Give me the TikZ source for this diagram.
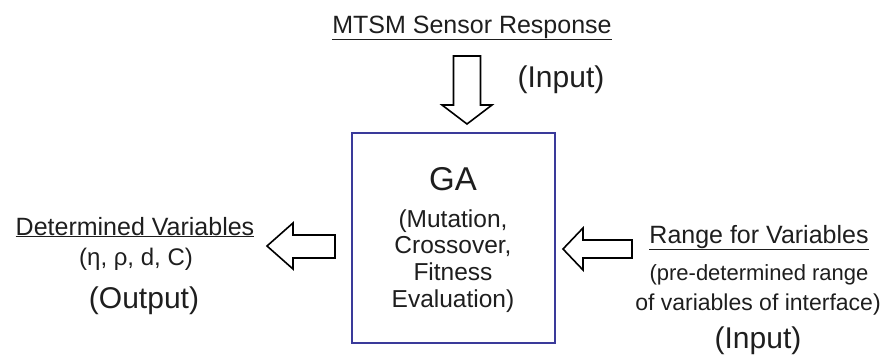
\documentclass[tikz,border=0pt]{standalone}
\usepackage{fontspec}
\setmainfont{Liberation Sans}
\definecolor{boxblue}{HTML}{3A3A9A}
\definecolor{ink}{HTML}{1E1E1E}
\begin{document}
\begin{tikzpicture}[x=1pt,y=-1pt,
  lbl/.style={inner sep=0pt, anchor=base, text=ink},
  big/.style={lbl, font=\fontsize{25}{30}\selectfont},
  mid/.style={lbl, font=\fontsize{24.5}{28}\selectfont},
  small/.style={lbl, font=\fontsize{23}{27}\selectfont},
  tag/.style={lbl, font=\fontsize{30}{34}\selectfont},
  blockarrow/.style={draw=black, line width=1.6pt, fill=white, line join=miter}]
\useasboundingbox (0,0) rectangle (884,356);

% central GA block
\draw[boxblue, line width=2.6pt] (352,133) rectangle (555,343);
\node[lbl, font=\fontsize{33}{36}\selectfont] (gatitle) at (453,190) {GA};
\node[mid] (ga1) at (453,227) {(Mutation,};
\node[mid] (ga2) at (453,253) {Crossover,};
\node[mid] (ga3) at (453,280) {Fitness};
\node[mid] (ga4) at (453,307) {Evaluation)};

% sensor input (top)
\node[big] (sensor) at (472,33) {\underline{MTSM Sensor Response}};
\node[tag] (intop) at (561,87) {(Input)};
\draw[blockarrow] (453.5,56) -- (480.5,56) -- (480.5,105) -- (492,105)
  -- (467,124) -- (442,105) -- (453.5,105) -- cycle;

% determined variables (left output)
\node[big] (detvar) at (135,235) {\underline{Determined Variables}};
\node[small, font=\fontsize{24}{28}\selectfont] (params) at (136,265) {(η, ρ, d, C)};
\node[tag] (out) at (144,308) {(Output)};
\draw[blockarrow] (335,235) -- (293,235) -- (293,223) -- (267,246)
  -- (293,269) -- (293,258) -- (335,258) -- cycle;

% variable ranges (right input)
\node[big] (range) at (759,243) {\underline{Range for Variables}};
\node[small, font=\fontsize{22}{26}\selectfont] (range1) at (759,280) {(pre-determined range};
\node[small] (range2) at (758,310) {of variables of interface)};
\node[tag] (inright) at (758,348) {(Input)};
\draw[blockarrow] (632,240) -- (583,240) -- (583,228) -- (563,249)
  -- (583,270) -- (583,258) -- (632,258) -- cycle;
\end{tikzpicture}
\end{document}
